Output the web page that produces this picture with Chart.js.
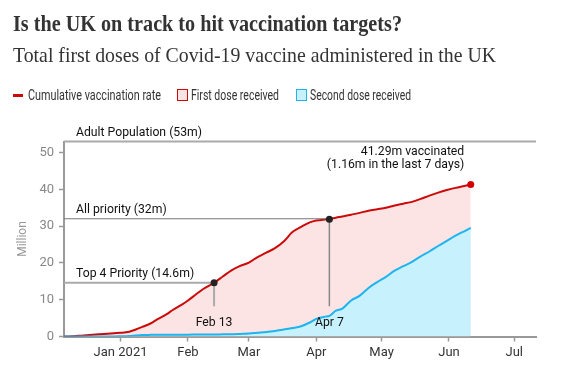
<!DOCTYPE html>
<html>
<head>
<meta charset="utf-8">
<script src="https://cdn.jsdelivr.net/npm/chart.js@4.4.1/dist/chart.umd.min.js"></script>
<style>
  body { margin: 0; background: #fff; }
  #wrap { position: relative; width: 578px; height: 375px; overflow: hidden; }
  #chart { position: absolute; left: 0; top: 0; }
  .fit { position: absolute; white-space: nowrap; transform-origin: 0 50%; line-height: 1; }
  .title { left: 13px; top: 11.7px; font-family: 'Liberation Serif', serif; font-weight: bold; font-size: 23px; color: #333; }
  .subtitle { left: 13px; top: 43.9px; font-family: 'Liberation Serif', serif; font-size: 22px; color: #333; }
  .leg { top: 88px; font-family: Roboto, sans-serif; font-size: 14px; color: #333; }
  .sw { position: absolute; box-sizing: border-box; }
</style>
</head>
<body>
<div id="wrap">
  <canvas id="chart" width="578" height="375"></canvas>
  <div class="fit title" data-w="389">Is the UK on track to hit vaccination targets?</div>
  <div class="fit subtitle" data-w="483">Total first doses of Covid-19 vaccine administered in the UK</div>
  <div class="sw" style="left:13px;top:94px;width:10px;height:2.5px;background:#cc0a0a"></div>
  <div class="fit leg" style="left:28px" data-w="133">Cumulative vaccination rate</div>
  <div class="sw" style="left:176.5px;top:89px;width:11.5px;height:11.5px;background:#fce4e4;border:1.5px solid #cc0a0a"></div>
  <div class="fit leg" style="left:191px" data-w="88">First dose received</div>
  <div class="sw" style="left:295.5px;top:89px;width:11.5px;height:11.5px;background:#c6f1fd;border:1.5px solid #1eb4ee"></div>
  <div class="fit leg" style="left:310px" data-w="101">Second dose received</div>
</div>
<script>
// days counted from 1 Jan 2021
const days = [-26, -24, -17, -10, -3, 0, 4, 7, 10, 14, 17, 21, 24, 28, 31, 35, 38, 43, 47, 51, 55, 59, 63, 67, 71, 75, 79, 83, 87, 90, 94, 96, 99, 102, 106, 110, 114, 118, 122, 126, 130, 134, 138, 142, 146, 150, 154, 158, 161];
const firstDoses = [0, 0, 0.3, 0.6, 0.9, 1.0, 1.3, 1.9, 2.6, 3.6, 4.7, 6.0, 7.2, 8.6, 9.8, 11.6, 12.9, 14.6, 16.3, 18.0, 19.2, 20.1, 21.6, 22.8, 24.0, 25.8, 28.4, 29.8, 31.0, 31.5, 31.8, 31.9, 32.3, 32.6, 33.1, 33.6, 34.2, 34.6, 35.0, 35.6, 36.1, 36.6, 37.4, 38.3, 39.1, 39.8, 40.4, 40.9, 41.29];
const secondDoses = [0, 0, 0, 0, 0, 0.05, 0.15, 0.3, 0.4, 0.45, 0.48, 0.5, 0.5, 0.5, 0.5, 0.52, 0.53, 0.55, 0.58, 0.6, 0.7, 0.8, 1.0, 1.2, 1.5, 1.9, 2.3, 2.8, 3.8, 4.8, 5.4, 5.6, 7.0, 7.6, 9.8, 11.1, 13.2, 14.8, 16.2, 17.9, 19.1, 20.3, 21.8, 23.1, 24.6, 26.0, 27.4, 28.6, 29.5];

const xTickDays = [0, 31, 59, 90, 120, 151, 181];
const xTickLabels = ['Jan 2021', 'Feb', 'Mar', 'Apr', 'May', 'Jun', 'Jul'];
const yTicks = [0, 10, 20, 30, 40, 50];

const refLabels = ['Adult Population (53m)', 'All priority (32m)', 'Top 4 Priority (14.6m)'];
const refValues = [53, 32, 14.6];
const refEndDays = [null, 96, 43];
const milestoneDays = [43, 96];
const milestoneLabels = ['Feb 13', 'Apr 7'];
const stemBottom = 8.2;
const endNote = ['41.29m vaccinated', '(1.16m in the last 7 days)'];

// squeeze the html text to the widths of the original
document.querySelectorAll('.fit').forEach(el => {
  const w = el.getBoundingClientRect().width;
  el.style.transform = 'scaleX(' + (el.dataset.w / w) + ')';
});

const FONT = 'Roboto, sans-serif';
Chart.defaults.font.family = FONT;

// narrow text, the original uses a condensed face
function narrowText(ctx, text, x, y, align) {
  const k = 0.94;
  ctx.save();
  ctx.translate(x, y);
  ctx.scale(k, 1);
  ctx.textAlign = align;
  ctx.fillText(text, 0, 0);
  ctx.restore();
}

const annotations = {
  id: 'annotations',
  afterDatasetsDraw(chart) {
    const { ctx, chartArea, scales: { x, y } } = chart;
    ctx.save();
    ctx.font = '13px ' + FONT;
    ctx.textBaseline = 'alphabetic';
    // reference lines
    refValues.forEach((v, i) => {
      const py = y.getPixelForValue(v);
      const endX = refEndDays[i] === null ? chartArea.right : x.getPixelForValue(refEndDays[i]);
      ctx.strokeStyle = i === 1 ? '#777' : '#aaa';
      ctx.lineWidth = i === 1 ? 1 : 2;
      ctx.beginPath();
      ctx.moveTo(chartArea.left, py);
      ctx.lineTo(endX, py);
      ctx.stroke();
      ctx.fillStyle = '#111';
      narrowText(ctx, refLabels[i], chartArea.left + 12, py - 6, 'left');
    });
    // milestone stems, dots and dates
    milestoneDays.forEach((d, i) => {
      const idx = days.indexOf(d);
      const px = x.getPixelForValue(d);
      const py = y.getPixelForValue(firstDoses[idx]);
      const pb = y.getPixelForValue(stemBottom);
      ctx.strokeStyle = i === 0 ? '#aaa' : '#888';
      ctx.lineWidth = i === 0 ? 2 : 1.5;
      ctx.beginPath();
      ctx.moveTo(px, py);
      ctx.lineTo(px, pb);
      ctx.stroke();
      ctx.fillStyle = '#222';
      ctx.beginPath();
      ctx.arc(px, py, 3.5, 0, Math.PI * 2);
      ctx.fill();
      ctx.fillStyle = '#111';
      narrowText(ctx, milestoneLabels[i], px, pb + 20, 'center');
    });
    // end point
    const last = days.length - 1;
    const ex = x.getPixelForValue(days[last]);
    const ey = y.getPixelForValue(firstDoses[last]);
    ctx.fillStyle = '#d40000';
    ctx.beginPath();
    ctx.arc(ex, ey, 3.5, 0, Math.PI * 2);
    ctx.fill();
    ctx.fillStyle = '#111';
    narrowText(ctx, endNote[0], ex - 6.5, ey - 30, 'right');
    narrowText(ctx, endNote[1], ex - 6.5, ey - 16.5, 'right');
    ctx.restore();
  }
};

new Chart(document.getElementById('chart'), {
  type: 'line',
  data: {
    datasets: [
      {
        label: 'Second dose received',
        data: days.map((d, i) => ({ x: d, y: secondDoses[i] })),
        borderColor: '#1eb4ee',
        backgroundColor: '#c6f1fd',
        borderWidth: 2,
        fill: 'origin',
        pointRadius: 0,
        cubicInterpolationMode: 'monotone'
      },
      {
        label: 'Cumulative vaccination rate',
        data: days.map((d, i) => ({ x: d, y: firstDoses[i] })),
        borderColor: '#cc0a0a',
        backgroundColor: '#fce4e4',
        borderWidth: 2,
        fill: 'origin',
        pointRadius: 0,
        cubicInterpolationMode: 'monotone'
      }
    ]
  },
  options: {
    responsive: false,
    animation: false,
    layout: { padding: { top: 141.5, right: 42, left: 0, bottom: 0 } },
    plugins: { legend: { display: false }, tooltip: { enabled: false } },
    scales: {
      x: {
        type: 'linear',
        min: -26,
        max: 191,
        afterBuildTicks: s => { s.ticks = xTickDays.map(v => ({ value: v })); },
        afterFit: s => { s.height = 38.5; },
        ticks: { callback: (v, i) => xTickLabels[i], color: '#333', font: { size: 13 }, padding: 3, maxRotation: 0, autoSkip: false },
        grid: { drawOnChartArea: false, color: '#999', tickLength: 5, tickWidth: 1.5 },
        border: { color: '#999', width: 2 }
      },
      y: {
        min: 0,
        max: 53,
        afterBuildTicks: s => { s.ticks = yTicks.map(v => ({ value: v })); },
        afterFit: s => { s.width = 64; },
        ticks: { color: '#888', font: { size: 13 }, padding: 5 },
        grid: { drawOnChartArea: false, color: '#999', tickLength: 5, tickWidth: 1.5 },
        border: { color: '#999', width: 2 },
        title: { display: true, text: 'Million', color: '#999', font: { size: 12 }, padding: { top: 16, bottom: 0 } }
      }
    }
  },
  plugins: [annotations]
});
</script>
</body>
</html>
